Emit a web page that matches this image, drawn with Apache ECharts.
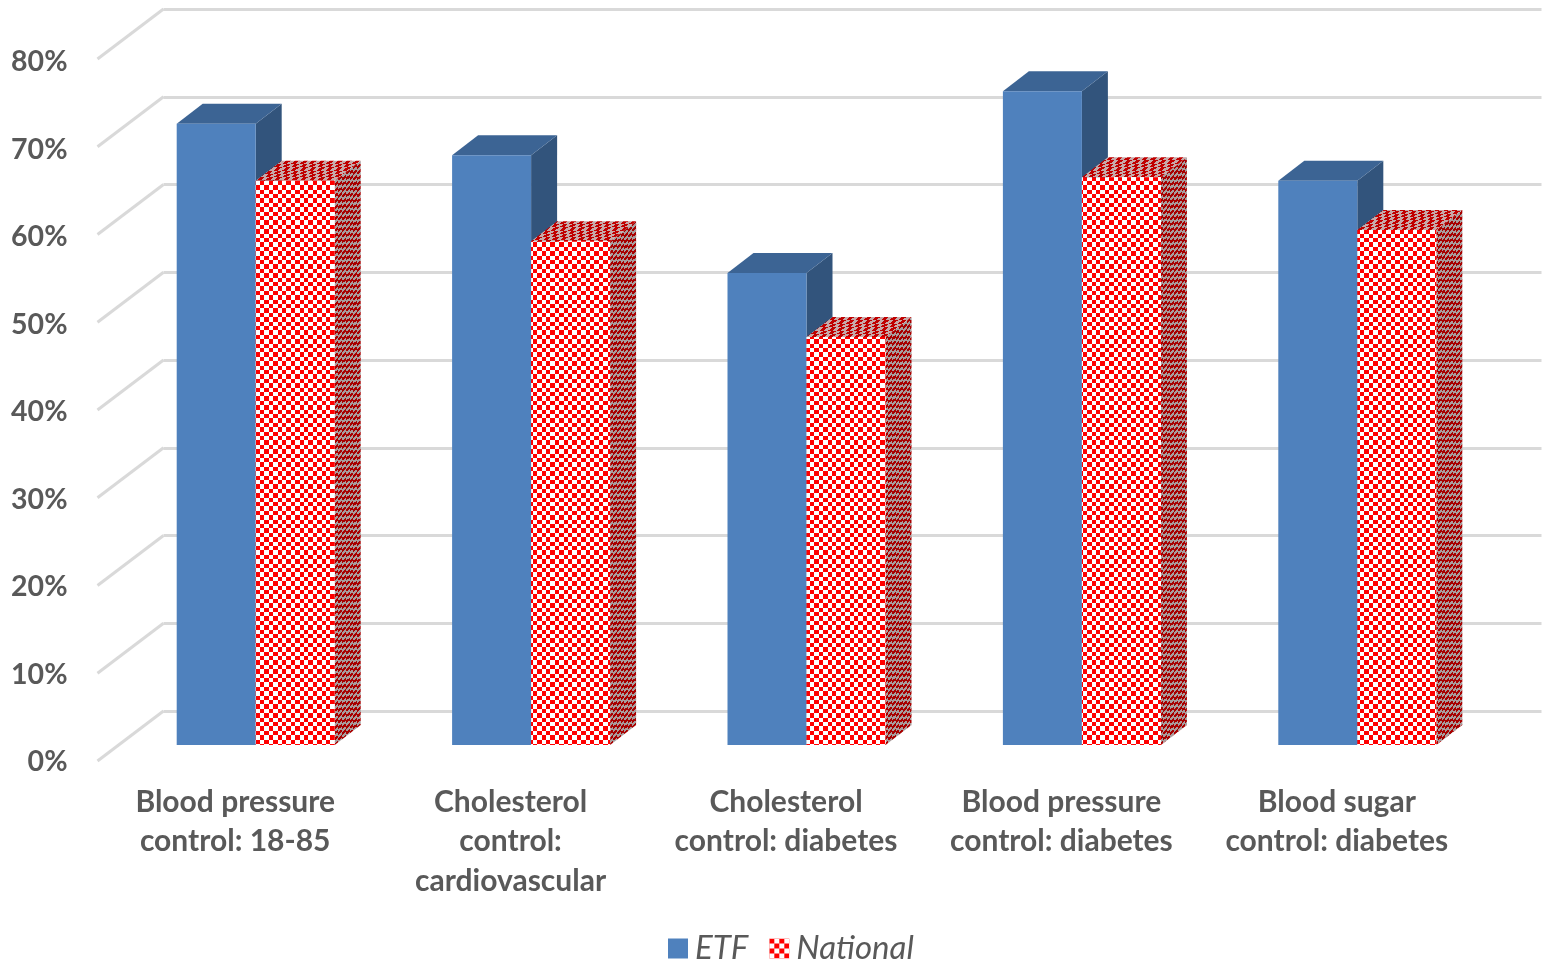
<!DOCTYPE html>
<html>
<head>
<meta charset="utf-8">
<style>html,body{margin:0;padding:0;background:#fff;overflow:hidden}#chart{width:1543px;height:962px}</style>
<script src="https://cdn.jsdelivr.net/npm/echarts@6/dist/echarts.min.js"></script>
</head>
<body>
<div id="chart"></div>
<script>
const categories = [
	'Blood pressure\ncontrol: 18-85',
	'Cholesterol\ncontrol:\ncardiovascular',
	'Cholesterol\ncontrol: diabetes',
	'Blood pressure\ncontrol: diabetes',
	'Blood sugar\ncontrol: diabetes',
];
const etfValues = [70.8, 67.2, 53.8, 74.5, 64.3];
const nationalValues = [64.3, 57.4, 46.5, 64.7, 58.7];
const gridTicks = [0, 10, 20, 30, 40, 50, 60, 70, 80];

const BAR_W = 79;
const DX = 26;
const DY = 20;

// tile filled pixel by pixel, fn says which of the two colours
const makeTile = (w, h, c1, c2, fn) => {
	let cv = document.createElement('canvas');
	cv.width = w;
	cv.height = h;
	let ctx = cv.getContext('2d');
	for (let y = 0; y < h; y++) {
		for (let x = 0; x < w; x++) {
			ctx.fillStyle = fn(x, y) ? c1 : c2;
			ctx.fillRect(x, y, 1, 1);
		}
	}
	return { image: cv, repeat: 'repeat' };
};

const checkFront = makeTile(44, 44, '#ff0000', '#ffffff', (x, y) =>
	(Math.floor(x / 4.4) + Math.floor(y / 4.4)) % 2 === 0
);
const checkLegend = makeTile(10, 10, '#ff0000', '#ffffff', (x, y) =>
	(Math.floor(x / 5) + Math.floor(y / 5)) % 2 === 0
);
const checkSide = makeTile(26, 40, '#a80000', '#a89c9c', (x, y) =>
	(Math.floor(x / (26 / 7)) + Math.floor((y + (20 * x) / 26) / (40 / 14))) % 2 === 0
);
const checkTop = makeTile(26, 20, '#c00000', '#c8a8a8', (x, y) =>
	(Math.floor(y / 3.34) + Math.floor((x + (26 * y) / 20) / 4.34)) % 2 === 0
);

const barItem = (xShift, front, top, side) => (params, api) => {
	let p = api.coord([api.value(0), api.value(1)]);
	let base = api.coord([api.value(0), 0]);
	let x0 = p[0] + xShift;
	let x1 = x0 + BAR_W;
	let y0 = p[1];
	let y1 = base[1];
	return {
		type: 'group',
		children: [
			{
				type: 'polygon',
				shape: { points: [[x1, y0], [x1 + DX, y0 - DY], [x1 + DX, y1 - DY], [x1, y1]] },
				style: { fill: side },
			},
			{
				type: 'polygon',
				shape: { points: [[x0, y0], [x0 + DX, y0 - DY], [x1 + DX, y0 - DY], [x1, y0]] },
				style: { fill: top },
			},
			{
				type: 'rect',
				shape: { x: x0, y: y0, width: BAR_W, height: y1 - y0 },
				style: { fill: front },
			},
		],
	};
};

const labelFont = { fontFamily: 'Lato', fontWeight: 'bold', color: '#595959' };

let myChart = echarts.init(document.getElementById('chart'), null, { renderer: 'canvas' });

let hiddenY = { type: 'value', min: 0, max: 80, interval: 10, show: false };
let hiddenX = { type: 'category', data: categories, show: false };

let option = {
	animation: false,
	backgroundColor: '#ffffff',
	grid: [
		// front edge of the floor, carries the labels
		{ left: 97.5, top: 62, width: 1377, height: 700 },
		// back wall, carries the gridlines
		{ left: 163.5, top: 9, width: 1378, height: 702 },
		// plane of the bars' front faces
		{ left: 118, top: 43, width: 1377, height: 702 },
	],
	xAxis: [
		{
			type: 'category',
			gridIndex: 0,
			data: categories,
			axisLine: { show: false },
			axisTick: { show: false },
			axisLabel: {
				...labelFont,
				interval: 0,
				fontSize: 30,
				lineHeight: 39.5,
				margin: 20.5,
			},
		},
		{ ...hiddenX, gridIndex: 1 },
		{ ...hiddenX, gridIndex: 2 },
	],
	yAxis: [
		{
			type: 'value',
			gridIndex: 0,
			min: 0,
			max: 80,
			interval: 10,
			axisLine: { show: false },
			axisTick: { show: false },
			splitLine: { show: false },
			axisLabel: { ...labelFont, fontSize: 28.5, margin: 30, formatter: '{value}%' },
		},
		{
			...hiddenY,
			gridIndex: 1,
			show: true,
			axisLine: { show: false },
			axisTick: { show: false },
			axisLabel: { show: false },
			splitLine: { show: true, lineStyle: { color: '#d9d9d9', width: 3 } },
		},
		{ ...hiddenY, gridIndex: 2 },
	],
	legend: {
		left: 668,
		top: 932,
		padding: 0,
		itemWidth: 20,
		itemHeight: 20,
		itemGap: 21,
		textStyle: { fontFamily: 'Lato', fontStyle: 'italic', fontSize: 33, color: '#595959', padding: [0, 0, 0, 2] },
		data: [
			{ name: 'ETF', icon: 'rect', itemStyle: { color: '#4f81bd' } },
			{ name: 'National', icon: 'rect', itemStyle: { color: checkLegend } },
		],
	},
	series: [
		{
			type: 'custom',
			name: 'wall',
			xAxisIndex: 1,
			yAxisIndex: 1,
			silent: true,
			data: gridTicks.map((t) => [0, t]),
			renderItem: (params, api) => {
				let y = api.coord([0, api.value(1)])[1];
				let x = params.coordSys.x;
				return {
					type: 'line',
					shape: { x1: x, y1: y, x2: x - 66, y2: y + 50 },
					style: { stroke: '#d9d9d9', lineWidth: 3 },
				};
			},
		},
		{
			type: 'custom',
			name: 'ETF',
			xAxisIndex: 2,
			yAxisIndex: 2,
			itemStyle: { color: '#4f81bd' },
			data: etfValues.map((v, i) => [i, v]),
			renderItem: barItem(-BAR_W, '#4f81bd', '#3c6494', '#32547c'),
		},
		{
			type: 'custom',
			name: 'National',
			xAxisIndex: 2,
			yAxisIndex: 2,
			itemStyle: { color: checkLegend },
			data: nationalValues.map((v, i) => [i, v]),
			renderItem: barItem(0, checkFront, checkTop, checkSide),
		},
	],
};

myChart.setOption(option);
</script>
</body>
</html>
